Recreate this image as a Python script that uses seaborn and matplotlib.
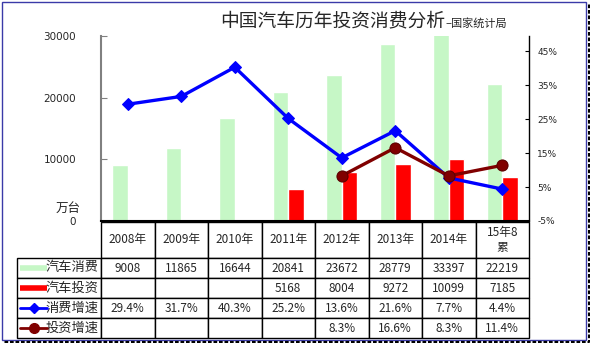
import numpy as np
import pandas as pd
import matplotlib
matplotlib.use("Agg")
import matplotlib.pyplot as plt
from matplotlib.patches import Rectangle
from matplotlib.lines import Line2D
import seaborn as sns

years = ["2008年", "2009年", "2010年", "2011年", "2012年", "2013年", "2014年", "15年8\n累"]
consumption = [9008, 11865, 16644, 20841, 23672, 28779, 33397, 22219]
investment = [np.nan, np.nan, np.nan, 5168, 8004, 9272, 10099, 7185]
cons_growth = [29.4, 31.7, 40.3, 25.2, 13.6, 21.6, 7.7, 4.4]
inv_growth = [np.nan, np.nan, np.nan, np.nan, 8.3, 16.6, 8.3, 11.4]
series_names = ["汽车消费", "汽车投资", "消费增速", "投资增速"]
left_ticks = [0, 10000, 20000, 30000]
right_ticks = [-5, 5, 15, 25, 35, 45]

sns.set_style("white")
plt.rcParams['font.family'] = ['Noto Sans CJK SC', 'DejaVu Sans']

GREEN = "#c6f7c6"
RED = "#ff0000"
BLUE = "#0000ff"
DRED = "#800000"

W, H = 590, 343
fig = plt.figure(figsize=(W / 100, H / 100), dpi=100)

def fx(px):
    return px / W

def fy(py):
    return 1 - py / H

AX_L, AX_R, AX_T, AX_B = 101, 529, 36, 221
ax = fig.add_axes([fx(AX_L), fy(AX_B), (AX_R - AX_L) / W, (AX_B - AX_T) / H])

n = len(years)
df = pd.DataFrame({
    "year": years * 2,
    "series": [series_names[0]] * n + [series_names[1]] * n,
    "value": consumption + investment,
})
sns.barplot(data=df, x="year", y="value", hue="series",
            hue_order=series_names[:2], palette=[GREEN, RED],
            width=0.58, saturation=1, legend=False, ax=ax, errorbar=None)
ax.set_ylim(0, 30000)
ax.set_xlim(-0.5, n - 0.5)
ax.set_xticks([])
ax.set_xlabel("")
ax.set_ylabel("")
ax.set_yticks(left_ticks)
ax.set_yticklabels([str(t) for t in left_ticks], fontsize=7.5, family=['DejaVu Sans'])
ax.tick_params(axis='y', direction='in', length=4, color='#808080', pad=18)
ax.spines['top'].set_visible(False)
ax.spines['right'].set_visible(False)
ax.spines['left'].set_color('#808080')
ax.spines['left'].set_linewidth(1.5)
ax.spines['bottom'].set_color('black')
ax.spines['bottom'].set_linewidth(1.5)

ax2 = ax.twinx()
xs = np.arange(n)
sns.lineplot(x=xs, y=cons_growth, ax=ax2, color=BLUE, lw=2.4, marker='D',
             markersize=6, markeredgecolor=BLUE, legend=False)
sns.lineplot(x=xs[4:], y=inv_growth[4:], ax=ax2, color=DRED, lw=2.4, marker='o',
             markersize=8, markeredgecolor='#5a0000', legend=False)
ax2.set_ylim(-5, 49.5)
ax2.set_yticks(right_ticks)
ax2.set_yticklabels([f"{t}%" for t in right_ticks], fontsize=6.5, family=['DejaVu Sans'])
ax2.tick_params(axis='y', direction='in', length=3, color='black', pad=6)
for s in ['top', 'left', 'bottom']:
    ax2.spines[s].set_visible(False)
ax2.spines['right'].set_color('black')
ax2.spines['right'].set_linewidth(1)
ax2.set_xlim(-0.5, n - 0.5)

# unit label
fig.text(fx(68), fy(208), "万台", fontsize=9, ha='center', va='center')

# title
fig.text(fx(220), fy(21), "中国汽车历年投资消费分析", fontsize=13.5, ha='left', va='center')
fig.text(fx(445), fy(23), "–国家统计局", fontsize=8, ha='left', va='center')

# table
def fmt_int(v):
    return "" if (v is None or (isinstance(v, float) and np.isnan(v))) else f"{int(v)}"

def fmt_pct(v):
    return "" if (isinstance(v, float) and np.isnan(v)) else f"{v:.1f}%"

rows = [[""] + years,
        [series_names[0]] + [fmt_int(v) for v in consumption],
        [series_names[1]] + [fmt_int(v) for v in investment],
        [series_names[2]] + [fmt_pct(v) for v in cons_growth],
        [series_names[3]] + [fmt_pct(v) for v in inv_growth]]

TL, TR, TT, TB = 17, 529, 222, 338
def axx(px):
    return (px - AX_L) / (AX_R - AX_L)

def axy(py):
    return (AX_B - py) / (AX_B - AX_T)

tbl = ax.table(cellText=rows, cellLoc='center',
               bbox=[axx(TL), axy(TB), axx(TR) - axx(TL), axy(TT) - axy(TB)])
tbl.auto_set_font_size(False)
row_h = [36, 20, 20, 20, 20]
col_w = [84] + [53.5] * n
for (r, c), cell in tbl.get_celld().items():
    cell.set_height(row_h[r])
    cell.set_width(col_w[c])
    cell.set_linewidth(1.0)
    cell.set_edgecolor('black')
    cell.get_text().set_fontsize(8.5)
    if r == 0 and c == 0:
        cell.visible_edges = ''
    if c == 0 and r > 0:
        cell.get_text().set_ha('right')
        cell._loc = 'right'
        cell.PAD = 0.03
        cell.get_text().set_fontsize(9.5)

# legend swatches in row-label cells
centers = [268, 288, 308, 328]
sx0, sx1 = axx(20), axx(47)
ax.plot([sx0, sx1], [axy(centers[0])] * 2, transform=ax.transAxes, clip_on=False,
        color=GREEN, lw=4, solid_capstyle='butt')
ax.plot([sx0, sx1], [axy(centers[1])] * 2, transform=ax.transAxes, clip_on=False,
        color=RED, lw=4, solid_capstyle='butt')
ax.plot([sx0, sx1], [axy(centers[2])] * 2, transform=ax.transAxes, clip_on=False,
        color=BLUE, lw=2)
ax.plot([(sx0 + sx1) / 2], [axy(centers[2])], transform=ax.transAxes, clip_on=False,
        color=BLUE, marker='D', markersize=5)
ax.plot([sx0, sx1], [axy(centers[3])] * 2, transform=ax.transAxes, clip_on=False,
        color=DRED, lw=2)
ax.plot([(sx0 + sx1) / 2], [axy(centers[3])], transform=ax.transAxes, clip_on=False,
        color=DRED, marker='o', markersize=7)

# chart frame and shadow
fig.patches.append(Rectangle((fx(1.5), fy(339.5)), fx(586 - 1.5), (339.5 - 1.5) / H,
                             transform=fig.transFigure, fill=False,
                             edgecolor='#3a3aa8', lw=1.0))
fig.lines.append(Line2D([fx(588.5), fx(588.5)], [fy(4), fy(342)], transform=fig.transFigure,
                        color='black', lw=2.2, linestyle=(0, (1.2, 0.6))))
fig.lines.append(Line2D([fx(4), fx(589)], [fy(341.5), fy(341.5)], transform=fig.transFigure,
                        color='black', lw=2.2, linestyle=(0, (1.2, 0.6))))

fig.savefig("out.png", dpi=100)
